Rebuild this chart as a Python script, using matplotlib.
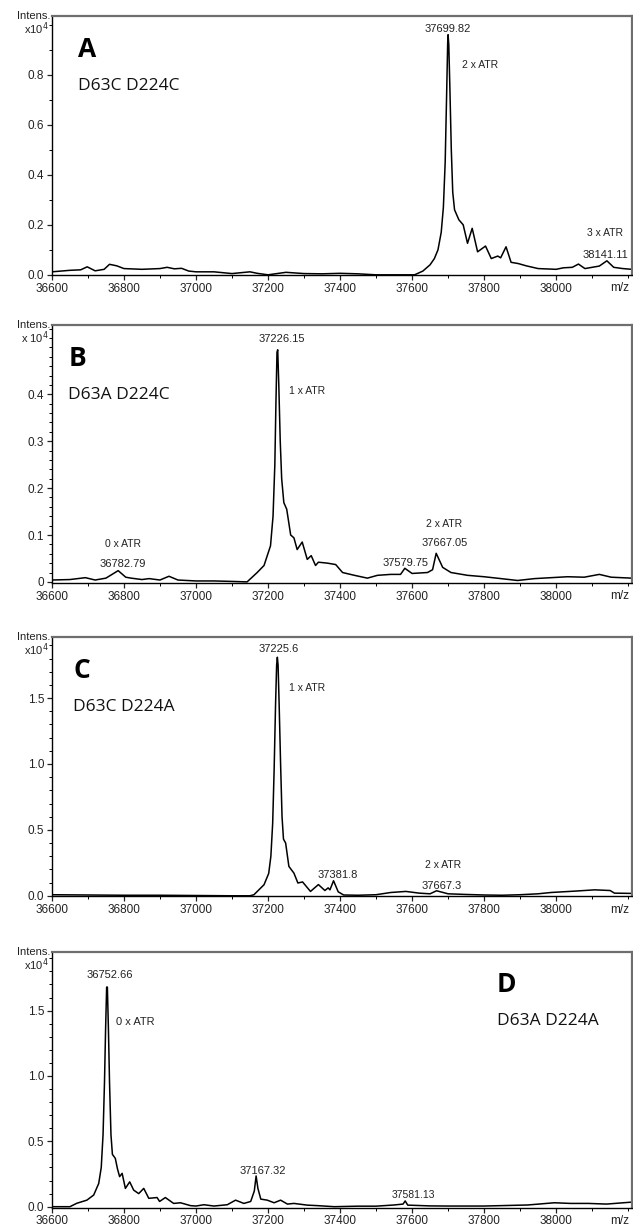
import matplotlib.pyplot as plt
from matplotlib.ticker import MultipleLocator, FixedLocator

plt.rcParams['font.family'] = ['Liberation Sans', 'DejaVu Sans']

# spectrum A: D63C D224C  (m/z, intensity x10^4)
mz_a = [36600, 36650, 36680, 36698, 36720, 36745, 36760, 36780, 36800, 36850, 36900, 36920,
        36940, 36960, 36980, 37000, 37050, 37100, 37150, 37170, 37200, 37250, 37300, 37350,
        37400, 37450, 37500, 37560, 37607, 37630, 37650, 37662, 37672, 37681, 37687, 37692,
        37696, 37699, 37700, 37702, 37705, 37709, 37713, 37718, 37730, 37742, 37754, 37767,
        37782, 37804, 37820, 37838, 37846, 37861, 37875, 37895, 37917, 37950, 38000, 38020,
        38045, 38062, 38080, 38100, 38120, 38141, 38160, 38185, 38210]
int_a = [0.012, 0.018, 0.02, 0.032, 0.016, 0.022, 0.042, 0.036, 0.025, 0.022, 0.025, 0.03,
         0.024, 0.026, 0.015, 0.012, 0.012, 0.005, 0.012, 0.006, 0.0, 0.01, 0.005, 0.004,
         0.006, 0.004, 0.0, 0.0, 0.0, 0.015, 0.04, 0.065, 0.10, 0.17, 0.27, 0.45,
         0.72, 0.93, 0.96, 0.92, 0.75, 0.50, 0.33, 0.26, 0.22, 0.2, 0.126, 0.186,
         0.092, 0.115, 0.065, 0.075, 0.068, 0.112, 0.05, 0.045, 0.036, 0.025, 0.022, 0.028,
         0.03, 0.043, 0.025, 0.03, 0.035, 0.056, 0.03, 0.025, 0.022]

# spectrum B: D63A D224C
mz_b = [36600, 36650, 36693, 36720, 36750, 36784, 36805, 36820, 36850, 36870, 36900, 36925,
        36950, 37000, 37050, 37100, 37142, 37170, 37189, 37207, 37214, 37219, 37222, 37225,
        37227, 37230, 37234, 37238, 37244, 37252, 37263, 37272, 37281, 37295, 37309, 37320,
        37332, 37340, 37365, 37388, 37407, 37440, 37476, 37504, 37541, 37568, 37580, 37600,
        37643, 37657, 37667, 37685, 37708, 37754, 37800, 37847, 37893, 37940, 37986, 38032,
        38078, 38120, 38153, 38210]
int_b = [0.004, 0.005, 0.009, 0.004, 0.008, 0.024, 0.01, 0.008, 0.005, 0.007, 0.004, 0.012,
         0.004, 0.002, 0.002, 0.001, 0.0, 0.02, 0.035, 0.077, 0.14, 0.25, 0.38, 0.49,
         0.495, 0.42, 0.30, 0.22, 0.169, 0.155, 0.10, 0.094, 0.069, 0.085, 0.048, 0.056,
         0.035, 0.042, 0.04, 0.037, 0.02, 0.014, 0.008, 0.014, 0.016, 0.016, 0.029, 0.018,
         0.02, 0.026, 0.061, 0.031, 0.02, 0.014, 0.011, 0.007, 0.003, 0.007, 0.009, 0.011,
         0.01, 0.016, 0.01, 0.008]

# spectrum C: D63C D224A
mz_c = [36600, 36700, 36800, 36900, 37003, 37100, 37150, 37161, 37189, 37202, 37208, 37213,
        37217, 37221, 37224, 37226, 37228, 37231, 37235, 37239, 37243, 37249, 37258, 37272,
        37283, 37296, 37318, 37340, 37358, 37367, 37372, 37382, 37395, 37410, 37450, 37500,
        37541, 37583, 37620, 37650, 37668, 37700, 37750, 37800, 37850, 37900, 37950, 37986,
        38050, 38107, 38150, 38162, 38210]
int_c = [0.008, 0.006, 0.004, 0.004, 0.002, 0.0, 0.0, 0.008, 0.084, 0.17, 0.30, 0.55,
         0.95, 1.45, 1.75, 1.81, 1.75, 1.45, 1.0, 0.6, 0.43, 0.40, 0.223, 0.172,
         0.097, 0.105, 0.033, 0.085, 0.04, 0.06, 0.045, 0.114, 0.03, 0.006, 0.004, 0.008,
         0.025, 0.033, 0.02, 0.015, 0.038, 0.015, 0.01, 0.006, 0.004, 0.008, 0.015, 0.025,
         0.035, 0.045, 0.04, 0.02, 0.018]

# spectrum D: D63A D224A
mz_d = [36600, 36650, 36669, 36697, 36716, 36730, 36737, 36742, 36746, 36749, 36752, 36754,
        36757, 36760, 36764, 36768, 36776, 36782, 36788, 36795, 36804, 36816, 36827, 36841,
        36855, 36869, 36892, 36899, 36915, 36938, 36957, 36985, 37000, 37022, 37050, 37087,
        37110, 37133, 37152, 37162, 37167, 37172, 37180, 37198, 37217, 37235, 37254, 37272,
        37309, 37338, 37384, 37450, 37500, 37550, 37575, 37581, 37588, 37650, 37700, 37800,
        37921, 37995, 38040, 38090, 38140, 38210]
int_d = [0.0, 0.0, 0.026, 0.05, 0.089, 0.178, 0.30, 0.55, 0.95, 1.35, 1.68, 1.68,
         1.35, 0.95, 0.55, 0.40, 0.37, 0.29, 0.23, 0.255, 0.14, 0.19, 0.127, 0.10,
         0.14, 0.064, 0.07, 0.04, 0.07, 0.025, 0.03, 0.008, 0.005, 0.015, 0.005, 0.015,
         0.05, 0.025, 0.04, 0.12, 0.235, 0.14, 0.058, 0.05, 0.03, 0.05, 0.02, 0.025,
         0.012, 0.008, 0.0, 0.004, 0.004, 0.013, 0.02, 0.044, 0.012, 0.006, 0.005, 0.005,
         0.013, 0.03, 0.025, 0.025, 0.02, 0.035]

panels = ['A', 'B', 'C', 'D']
mutants = ['D63C D224C', 'D63A D224C', 'D63C D224A', 'D63A D224A']
spectra = [(mz_a, int_a), (mz_b, int_b), (mz_c, int_c), (mz_d, int_d)]
y_tops = [1.035, 0.547, 1.961, 1.946]
y_bottoms = [-0.001, -0.003, -0.005, -0.008]
y_major = [[0.0, 0.2, 0.4, 0.6, 0.8], [0, 0.1, 0.2, 0.3, 0.4], [0.0, 0.5, 1.0, 1.5], [0.0, 0.5, 1.0, 1.5]]
y_labels = [['0.0', '0.2', '0.4', '0.6', '0.8'], ['0', '0.1', '0.2', '0.3', '0.4'],
            ['0.0', '0.5', '1.0', '1.5'], ['0.0', '0.5', '1.0', '1.5']]
y_minor = [0.1, 0.02, 0.1, 0.1]
unit_labels = ['x10$^4$', 'x 10$^4$', 'x10$^4$', 'x10$^4$']

# peak annotations: (text, m/z, intensity, ha, size)
notes = [
    [('37699.82', 37700, 0.983, 'center', 8), ('2 x ATR', 37738, 0.839, 'left', 7.5),
     ('3 x ATR', 38136, 0.167, 'center', 7.5), ('38141.11', 38136, 0.079, 'center', 8)],
    [('37226.15', 37239, 0.519, 'center', 8), ('1 x ATR', 37257, 0.407, 'left', 7.5),
     ('0 x ATR', 36798, 0.080, 'center', 7.5), ('36782.79', 36798, 0.038, 'center', 8),
     ('2 x ATR', 37688, 0.123, 'center', 7.5), ('37667.05', 37691, 0.083, 'center', 8),
     ('37579.75', 37583, 0.040, 'center', 8)],
    [('37225.6', 37229, 1.872, 'center', 8), ('1 x ATR', 37257, 1.575, 'left', 7.5),
     ('37381.8', 37393, 0.160, 'center', 8), ('2 x ATR', 37685, 0.236, 'center', 7.5),
     ('37667.3', 37683, 0.076, 'center', 8)],
    [('36752.66', 36762, 1.776, 'center', 8), ('0 x ATR', 36779, 1.41, 'left', 8),
     ('37167.32', 37185, 0.272, 'center', 8), ('37581.13', 37604, 0.089, 'center', 7.5)],
]

# letter / mutant label positions in axes fraction
label_pos = [(0.045, 0.82), (0.028, 0.82), (0.037, 0.82), (0.767, 0.82)]

fig = plt.figure(figsize=(6.33, 12.28), dpi=100)
boxes = [(0.082, 0.776, 0.916, 0.211), (0.082, 0.525, 0.916, 0.210),
         (0.082, 0.270, 0.916, 0.211), (0.082, 0.0165, 0.916, 0.208)]

for i in range(4):
    ax = fig.add_axes(boxes[i])
    mz, inten = spectra[i]
    ax.plot(mz, inten, color='black', lw=1.1)
    ax.set_xlim(36600, 38210)
    ax.set_ylim(y_bottoms[i], y_tops[i])

    ax.xaxis.set_major_locator(FixedLocator([36600, 36800, 37000, 37200, 37400, 37600, 37800, 38000]))
    ax.xaxis.set_minor_locator(MultipleLocator(100))
    ax.yaxis.set_major_locator(FixedLocator(y_major[i]))
    ax.set_yticklabels(y_labels[i])
    ax.yaxis.set_minor_locator(MultipleLocator(y_minor[i]))
    ax.tick_params(which='major', length=3.5, width=0.9, labelsize=8.5, pad=2, colors='#222222')
    ax.tick_params(which='minor', length=2, width=0.7)

    for s in ['top', 'right']:
        ax.spines[s].set_color('#6e6e6e')
        ax.spines[s].set_linewidth(1.6)
    for s in ['left', 'bottom']:
        ax.spines[s].set_color('black')
        ax.spines[s].set_linewidth(1.0)

    ax.annotate('m/z', xy=(1, 0), xycoords='axes fraction', xytext=(-2, -9.5),
                textcoords='offset points', ha='right', va='center', fontsize=8.5, color='#222222')
    ax.text(-0.002, 1.0, 'Intens.', transform=ax.transAxes, ha='right', va='center',
            fontsize=8, color='#222222')
    ax.text(-0.006, 0.952, unit_labels[i], transform=ax.transAxes, ha='right', va='center',
            fontsize=8, color='#222222')

    lx, ly = label_pos[i]
    ax.text(lx, ly, panels[i], transform=ax.transAxes, ha='left', va='bottom',
            fontsize=19, fontweight='bold', family='Open Sans')
    ax.text(lx, 0.73, mutants[i], transform=ax.transAxes, ha='left', va='center',
            fontsize=12.5, family='Open Sans', color='#111111')

    for txt, x, y, ha, size in notes[i]:
        ax.text(x, y, txt, ha=ha, va='center', fontsize=size, color='#222222')

fig.savefig('out.png', dpi=100)
